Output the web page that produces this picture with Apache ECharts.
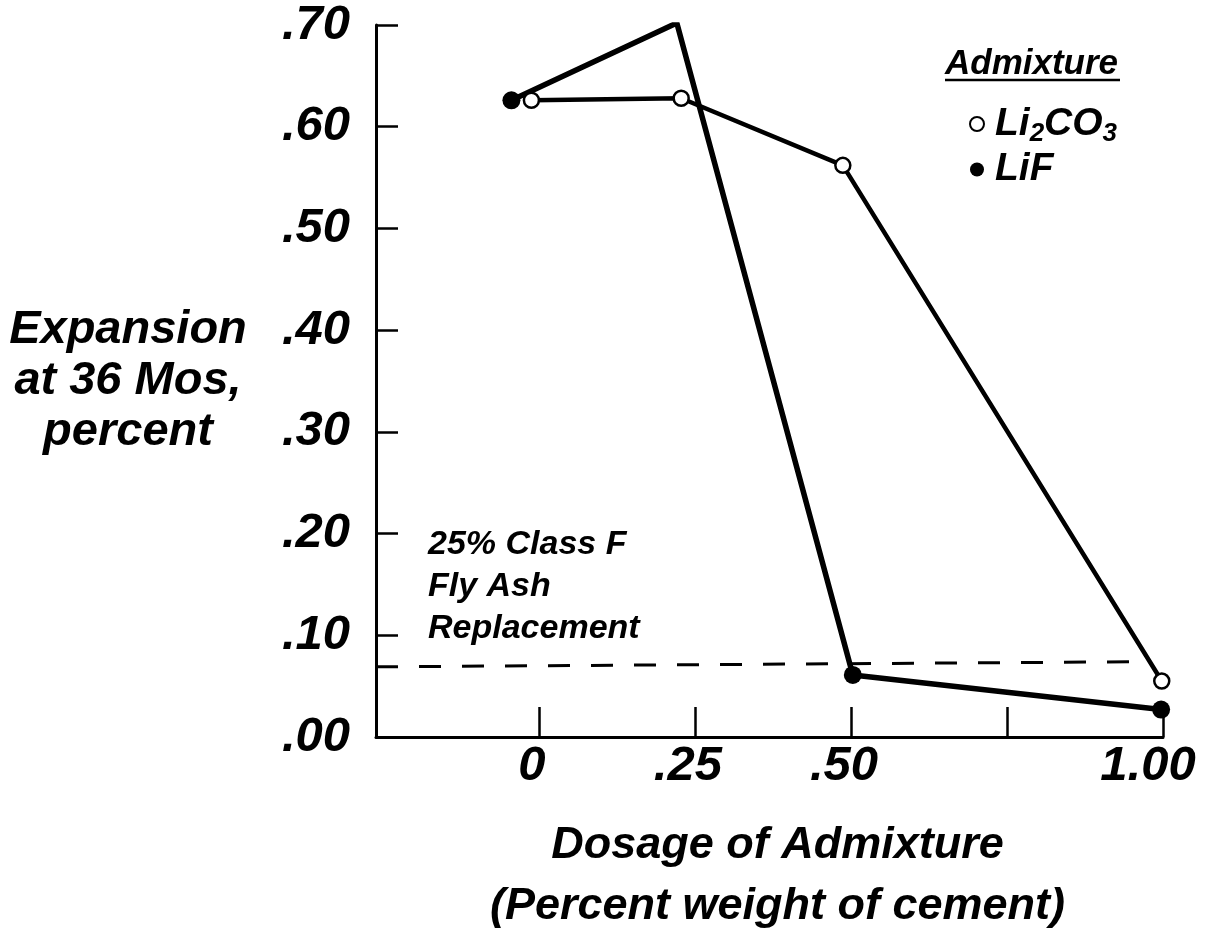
<!DOCTYPE html>
<html>
<head>
<meta charset="utf-8">
<script src="https://cdn.jsdelivr.net/npm/echarts@6/dist/echarts.min.js"></script>
<style>
html,body{margin:0;padding:0;background:#fff;}
#chart{width:1209px;height:942px;}
</style>
</head>
<body>
<div id="chart"></div>
<script>
// ---- data ----
const seriesNames = ['Li2CO3', 'LiF'];
const dosageLi2CO3 = [-0.012, 0.228, 0.487, 0.998];
const expansionLi2CO3 = [0.626, 0.628, 0.562, 0.055];
const dosageLiF = [-0.044, 0.221, 0.503, 0.997];
const expansionLiF = [0.626, 0.702, 0.061, 0.027];
const limitDosage = [-0.261, 0.968];
const limitExpansion = [0.069, 0.074];
const xTickValues = [0, 0.25, 0.5, 0.75, 1.0];
const xTickLabels = ['0', '.25', '.50', '', '1.00'];
const yTickLabels = ['.00', '.10', '.20', '.30', '.40', '.50', '.60', '.70'];
const yTitle = 'Expansion\nat 36 Mos,\npercent';
const xTitle = 'Dosage of Admixture\n(Percent weight of cement)';
const legendTitle = 'Admixture';
const noteText = '25% Class F\nFly Ash\nReplacement';

const FONT = "'Liberation Sans',Arial,Helvetica,sans-serif";

const zip = (xs, ys) => xs.map((x, i) => [x, ys[i]]);
const xLabelStyle = {fontFamily: FONT, fontSize: 49, fontWeight: 'bold', fontStyle: 'italic', color: '#000'};

const chart = echarts.init(document.getElementById('chart'), null, {renderer: 'canvas'});
chart.setOption({
  animation: false,
  backgroundColor: '#fff',
  grid: {left: 376, right: 46, top: 25, bottom: 205, containLabel: false, outerBoundsMode: 'none'},
  xAxis: {
    type: 'value', min: -0.261, max: 1.0,
    splitLine: {show: false},
    axisLine: {show: true, onZero: false, lineStyle: {color: '#000', width: 3}},
    axisTick: {show: true, inside: true, length: 30, lineStyle: {color: '#000', width: 2.5},
      customValues: xTickValues},
    axisLabel: {
      customValues: xTickValues.filter((v, i) => xTickLabels[i] !== ''),
      formatter: v => {
        const i = xTickValues.findIndex(t => Math.abs(t - v) < 1e-9);
        return (i === xTickValues.length - 1 ? '{b|' : '{a|') + xTickLabels[i] + '}';
      },
      margin: 5,
      rich: {
        a: Object.assign({padding: [0, 14, 0, 0]}, xLabelStyle),
        b: Object.assign({padding: [0, 30, 0, 0]}, xLabelStyle)
      }
    },
    name: xTitle, nameLocation: 'middle', nameGap: 78,
    nameTextStyle: {fontFamily: FONT, fontSize: 45, fontWeight: 'bold', fontStyle: 'italic',
      color: '#000', lineHeight: 61, padding: [0, 0, 0, 16]}
  },
  yAxis: {
    type: 'value', min: 0, max: 0.7, interval: 0.1,
    splitLine: {show: false},
    axisLine: {show: true, onZero: false, lineStyle: {color: '#000', width: 3}},
    axisTick: {show: true, inside: true, length: 22, lineStyle: {color: '#000', width: 2.5}},
    axisLabel: {
      formatter: v => yTickLabels[Math.round(v * 10)],
      fontFamily: FONT, fontSize: 49, fontWeight: 'bold', fontStyle: 'italic', color: '#000', margin: 26
    },
    name: yTitle, nameLocation: 'middle', nameGap: 248, nameRotate: 0,
    nameTextStyle: {fontFamily: FONT, fontSize: 47, fontWeight: 'bold', fontStyle: 'italic',
      color: '#000', lineHeight: 51, align: 'center', verticalAlign: 'middle', padding: [8, 0, 0, 0]}
  },
  legend: {
    orient: 'vertical', left: 969, top: 101, padding: 0, itemGap: 3,
    itemWidth: 14, itemHeight: 14, icon: 'circle',
    data: [
      {name: 'Li2CO3', itemStyle: {color: '#fff', borderColor: '#000', borderWidth: 2}},
      {name: 'LiF', itemStyle: {color: '#000', borderColor: '#000', borderWidth: 0}}
    ],
    formatter: n => n === 'Li2CO3' ? '{g| }{n|Li}{s|2}{n|CO}{s|3}' : '{g| }{n|LiF}',
    textStyle: {
      color: '#000',
      rich: {
        g: {width: 6, fontSize: 10},
        n: {fontFamily: FONT, fontSize: 39, fontWeight: 'bold', fontStyle: 'italic', lineHeight: 46, color: '#000'},
        s: {fontFamily: FONT, fontSize: 26, fontWeight: 'bold', fontStyle: 'italic', lineHeight: 26,
            padding: [20, 0, 0, 0], verticalAlign: 'top', color: '#000'}
      }
    }
  },
  graphic: [
    {type: 'text', left: 945, top: 47, style: {text: legendTitle, fontFamily: FONT, fontSize: 35,
      fontWeight: 'bold', fontStyle: 'italic', fill: '#000'}},
    {type: 'line', shape: {x1: 945, y1: 80, x2: 1120, y2: 80}, style: {stroke: '#000', lineWidth: 2.5}},
    {type: 'text', left: 428, top: 524, style: {text: noteText, fontFamily: FONT, fontSize: 34,
      fontWeight: 'bold', fontStyle: 'italic', fill: '#000', lineHeight: 42}}
  ],
  series: [
    {
      name: 'limit', type: 'line', data: zip(limitDosage, limitExpansion), symbol: 'none',
      lineStyle: {color: '#000', width: 3, type: [22, 21]}, silent: true, z: 1
    },
    {
      name: 'Li2CO3', type: 'line', data: zip(dosageLi2CO3, expansionLi2CO3),
      symbol: 'circle', symbolSize: 15,
      itemStyle: {color: '#fff', borderColor: '#000', borderWidth: 2.5},
      lineStyle: {color: '#000', width: 4.5}, z: 3
    },
    {
      name: 'LiF', type: 'line', data: zip(dosageLiF, expansionLiF),
      symbol: 'circle', symbolSize: 18,
      itemStyle: {color: '#000', borderColor: '#000', borderWidth: 0},
      lineStyle: {color: '#000', width: 5.5}, z: 2
    }
  ]
});
</script>
</body>
</html>
